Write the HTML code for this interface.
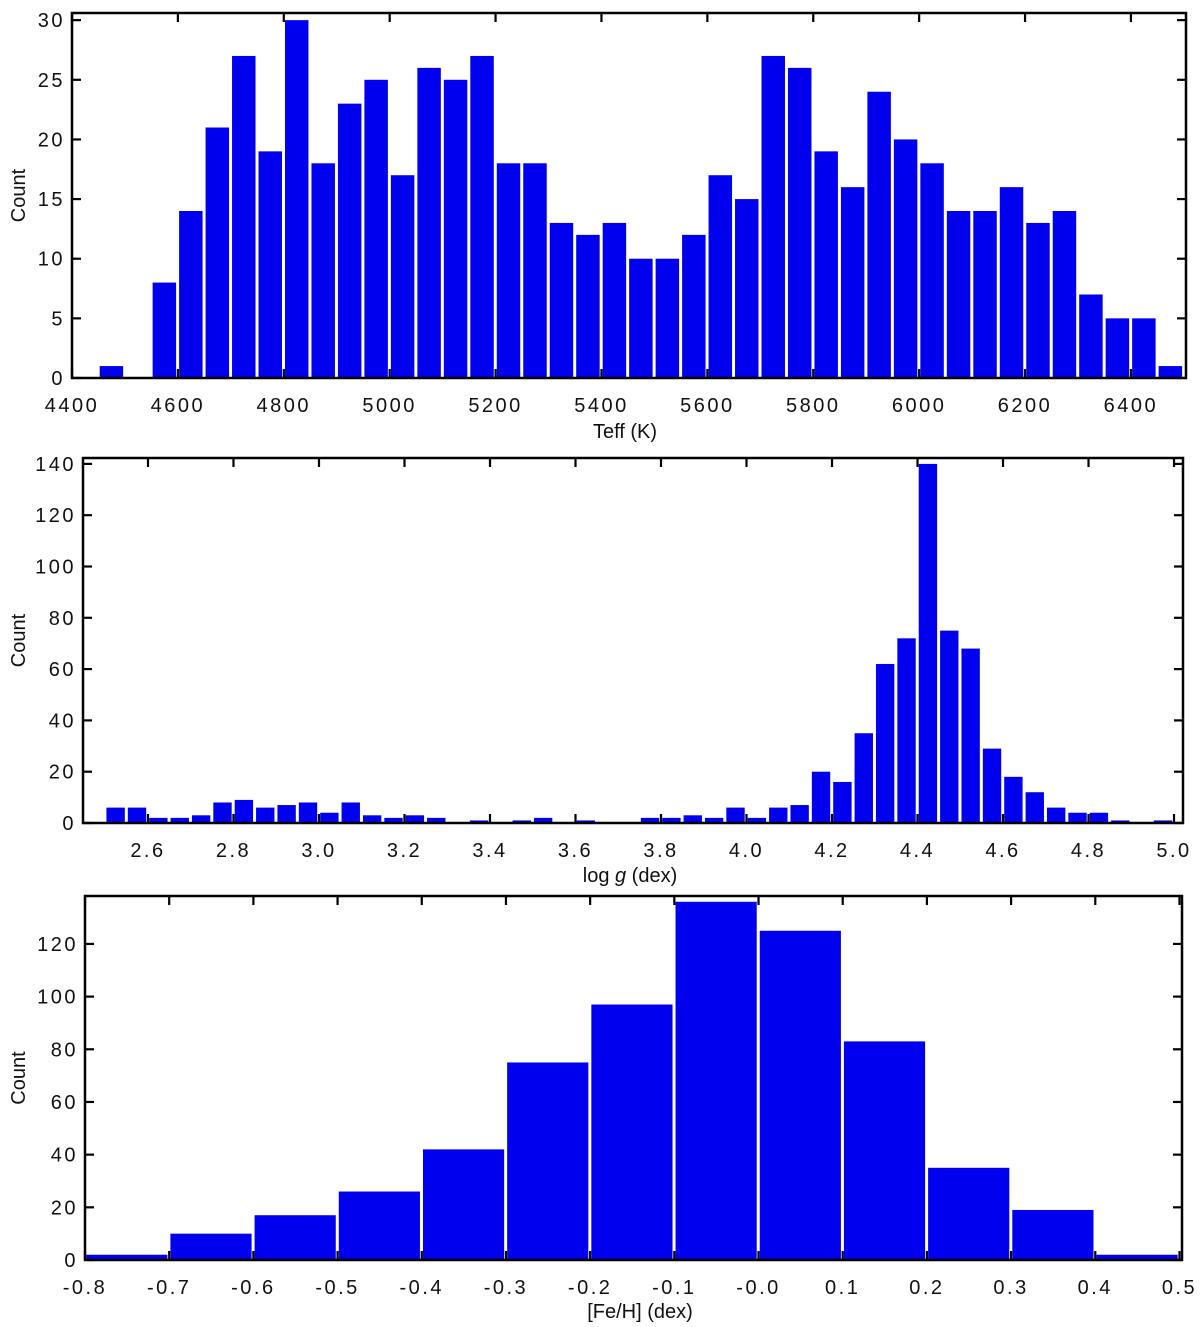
<!DOCTYPE html>
<html><head><meta charset="utf-8"><style>
html,body{margin:0;padding:0;background:#fff;}
svg{display:block;}
text{font-family:"Liberation Sans",sans-serif;fill:#111;}
</style></head>
<body>
<svg id="fig" width="1200" height="1327" viewBox="0 0 1200 1327" xmlns="http://www.w3.org/2000/svg"></svg>
<script>
// ---- Panel 1: Teff ----
const teffBinStarts = [4450,4500,4550,4600,4650,4700,4750,4800,4850,4900,4950,5000,5050,5100,5150,5200,5250,5300,5350,5400,5450,5500,5550,5600,5650,5700,5750,5800,5850,5900,5950,6000,6050,6100,6150,6200,6250,6300,6350,6400,6450];
const teffCounts = [1,0,8,14,21,27,19,30,18,23,25,17,26,25,27,18,18,13,12,13,10,10,12,17,15,27,26,19,16,24,20,18,14,14,16,13,14,7,5,5,1];
const teffBinWidth = 50;
const teffXTicks = [4400,4600,4800,5000,5200,5400,5600,5800,6000,6200,6400];
const teffYTicks = [0,5,10,15,20,25,30];
// ---- Panel 2: log g ----
const loggBinStarts = [2.5,2.55,2.6,2.65,2.7,2.75,2.8,2.85,2.9,2.95,3.0,3.05,3.1,3.15,3.2,3.25,3.3,3.35,3.4,3.45,3.5,3.55,3.6,3.65,3.7,3.75,3.8,3.85,3.9,3.95,4.0,4.05,4.1,4.15,4.2,4.25,4.3,4.35,4.4,4.45,4.5,4.55,4.6,4.65,4.7,4.75,4.8,4.85,4.9,4.95];
const loggCounts = [6,6,2,2,3,8,9,6,7,8,4,8,3,2,3,2,0,1,0,1,2,0,1,0,0,2,2,3,2,6,2,6,7,20,16,35,62,72,140,75,68,29,18,12,6,4,4,1,0,1];
const loggBinWidth = 0.05;
const loggXTicks = [2.6,2.8,3.0,3.2,3.4,3.6,3.8,4.0,4.2,4.4,4.6,4.8,5.0];
const loggXLabels = ["2.6","2.8","3.0","3.2","3.4","3.6","3.8","4.0","4.2","4.4","4.6","4.8","5.0"];
const loggYTicks = [0,20,40,60,80,100,120,140];
// ---- Panel 3: [Fe/H] ----
const fehBinStarts = [-0.8,-0.7,-0.6,-0.5,-0.4,-0.3,-0.2,-0.1,0.0,0.1,0.2,0.3,0.4];
const fehCounts = [2,10,17,26,42,75,97,136,125,83,35,19,2];
const fehBinWidth = 0.1;
const fehXTicks = [-0.8,-0.7,-0.6,-0.5,-0.4,-0.3,-0.2,-0.1,0.0,0.1,0.2,0.3,0.4,0.5];
const fehXLabels = ["-0.8","-0.7","-0.6","-0.5","-0.4","-0.3","-0.2","-0.1","-0.0","0.1","0.2","0.3","0.4","0.5"];
const fehYTicks = [0,20,40,60,80,100,120];

const NS = "http://www.w3.org/2000/svg";
const svg = document.getElementById('fig');
function mk(tag, attrs, parent){
  const e = document.createElementNS(NS, tag);
  for (const k in attrs) e.setAttribute(k, attrs[k]);
  (parent||svg).appendChild(e);
  return e;
}

function panel(o){
  const g = mk('g', {});
  
  
  const sx = v => o.L + (v - o.xmin) / (o.xmax - o.xmin) * (o.R - o.L);
  const sy = v => o.B - (v - o.ymin) / (o.ymax - o.ymin) * (o.B - o.T);
  o.starts.forEach((s, i) => {
    const c = o.counts[i];
    if (c <= 0) return;
    const x0 = sx(s), x1 = sx(s + o.bw);
    const r = mk('rect', {x: x0 + 1.2, y: sy(c), width: Math.max(1, x1 - x0 - 3), height: sy(0) - sy(c), fill: '#0000ee'}, g);
    
    
  });
  const fr = mk('rect', {x: o.L, y: o.T, width: o.R - o.L, height: o.B - o.T, fill: 'none', stroke: '#000', 'stroke-width': 2.5}, g);
  
  
  o.xticks.forEach((v, i) => {
    const x = sx(v);
    mk('line', {x1: x, y1: o.B, x2: x, y2: o.B - 9, stroke: '#000', 'stroke-width': 2.2}, g);
    mk('line', {x1: x, y1: o.T, x2: x, y2: o.T + 9, stroke: '#000', 'stroke-width': 2.2}, g);
    const t = mk('text', {x: x, y: o.B + 34, 'text-anchor': 'middle', 'font-size': 20, 'letter-spacing': 2.5}, g);
    t.textContent = o.xlabels ? o.xlabels[i] : String(v);
    
    
  });
  o.yticks.forEach(v => {
    const y = sy(v);
    mk('line', {x1: o.L, y1: y, x2: o.L + 9, y2: y, stroke: '#000', 'stroke-width': 2.2}, g);
    mk('line', {x1: o.R, y1: y, x2: o.R - 9, y2: y, stroke: '#000', 'stroke-width': 2.2}, g);
    const t = mk('text', {x: o.L - 7, y: y + 7, 'text-anchor': 'end', 'font-size': 20, 'letter-spacing': 2.5}, g);
    t.textContent = String(v);
    
    
  });
  const yt = mk('text', {x: 0, y: 0, 'text-anchor': 'middle', 'font-size': 20, transform: 'translate(25,' + ((o.T + o.B) / 2) + ') rotate(-90)'}, g);
  yt.textContent = 'Count';
  
  
  const xt = mk('text', {x: o.xtx, y: o.xty, 'text-anchor': 'middle', 'font-size': 20}, g);
  xt.innerHTML = o.xtitle;
  
  
}

panel({name: 'teff-histogram', L: 72, R: 1186, T: 13, B: 378, xmin: 4400, xmax: 6504, ymin: 0, ymax: 30.6,
  starts: teffBinStarts, counts: teffCounts, bw: teffBinWidth, xticks: teffXTicks, yticks: teffYTicks,
  xtitle: 'Teff (K)', xtx: 625, xty: 438});
panel({name: 'logg-histogram', L: 83, R: 1183, T: 458, B: 823, xmin: 2.448, xmax: 5.021, ymin: 0, ymax: 142.3,
  starts: loggBinStarts, counts: loggCounts, bw: loggBinWidth, xticks: loggXTicks, xlabels: loggXLabels, yticks: loggYTicks,
  xtitle: 'log <tspan font-style="italic">g</tspan>  (dex)', xtx: 630, xty: 882});
panel({name: 'feh-histogram', L: 85, R: 1182, T: 896, B: 1260, xmin: -0.8, xmax: 0.503, ymin: 0, ymax: 138.2,
  starts: fehBinStarts, counts: fehCounts, bw: fehBinWidth, xticks: fehXTicks, xlabels: fehXLabels, yticks: fehYTicks,
  xtitle: '[Fe/H] (dex)', xtx: 640, xty: 1318});
</script>
</body></html>
